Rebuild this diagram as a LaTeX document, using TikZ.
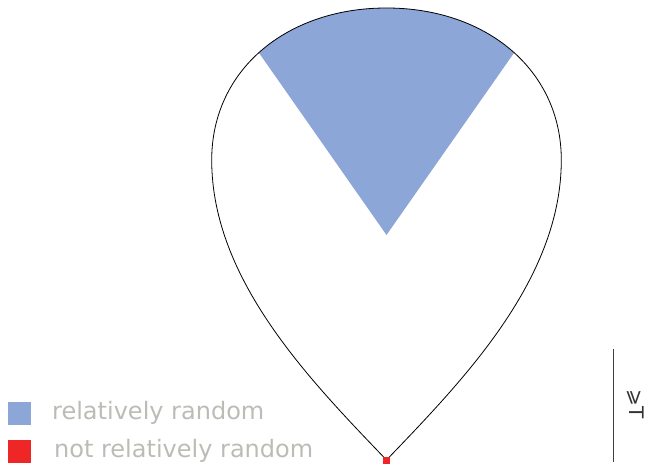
\documentclass[tikz,border=0pt]{standalone}
\usepackage{fontspec}
\setmainfont{DejaVu Sans}
\usepackage{xcolor}
\usetikzlibrary{positioning}

\definecolor{wedgeblue}{RGB}{141,166,216}
\definecolor{markred}{RGB}{238,38,38}
\definecolor{legendgray}{RGB}{188,188,182}

\begin{document}
\begin{tikzpicture}[x=1pt, y=1pt,
    swatch/.style={minimum size=23pt, inner sep=0pt, outer sep=0pt},
    legendtext/.style={text=legendgray, font=\fontsize{24}{28}\selectfont, inner sep=0pt}]
    \useasboundingbox (0,0) rectangle (652,463);

    % 1. Đường viền hình giọt nước (dùng lại để cắt hình quạt)
    \coordinate (tip) at (386.5,3);
    \coordinate (apex) at (386.5,228);
    \def\dropshape{(tip)
        .. controls (310.6,82.2) and (211.7,183) .. (211.7,303)
        .. controls (211.7,393) and (286.5,455) .. (386.5,455)
        .. controls (486.5,455) and (561.3,393) .. (561.3,303)
        .. controls (561.3,183) and (462.4,82.2) .. (tip) -- cycle}

    % 2. Hình quạt màu xanh
    \begin{scope}
        \clip \dropshape;
        \fill[wedgeblue] (apex) -- ++(55:300) arc[start angle=55, end angle=125, radius=300] -- cycle;
    \end{scope}
    \draw[black, line width=0.8pt] \dropshape;

    % 3. Điểm đỏ ở đỉnh dưới
    \node[swatch, fill=markred, minimum size=7pt] (mark) at (tip) {};

    % 4. Chú thích
    \node[swatch, fill=wedgeblue] (keyblue) at (19.5,50) {};
    \node[swatch, fill=markred] (keyred) at (19.5,12) {};
    \node[legendtext, right=21pt of keyblue] (labblue) {relatively random};
    \node[legendtext, right=23pt of keyred] (labred) {not relatively random};

    % 5. Thanh tỉ lệ bên phải
    \coordinate (barbot) at (613,1);
    \coordinate (bartop) at (613,114);
    \draw[black!75, line width=1pt] (barbot) -- (bartop);
    \node[rotate=-90, font=\fontsize{20}{24}\selectfont, text=black!80] (barlab) at (636,59) {⩾T};
\end{tikzpicture}
\end{document}
